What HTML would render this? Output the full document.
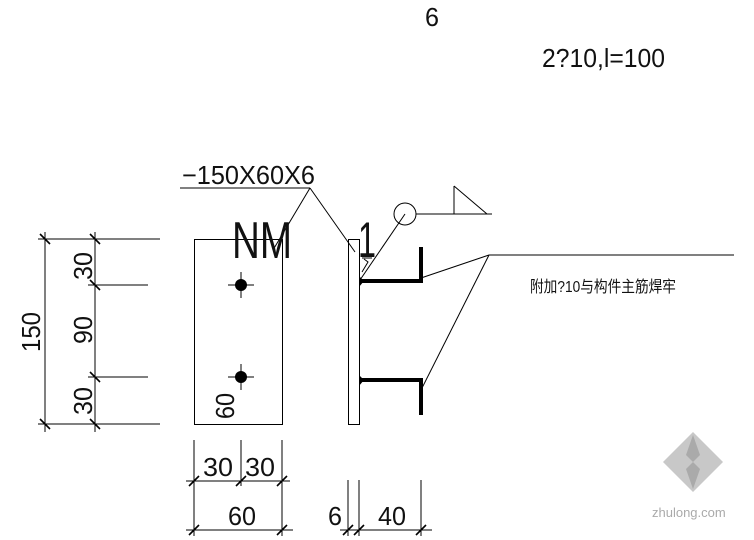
<!DOCTYPE html>
<html><head><meta charset="utf-8"><style>
html,body{margin:0;padding:0;background:#fff;}
svg{display:block}
text{font-family:"Liberation Sans","Noto Sans CJK SC",sans-serif;fill:#111;}
</style></head><body>
<svg width="754" height="540" viewBox="0 0 754 540" xmlns="http://www.w3.org/2000/svg">
<g stroke="#000" stroke-width="1" fill="none">
<line x1="45" y1="232" x2="45" y2="432"/>
<line x1="95" y1="232" x2="95" y2="432"/>
<line x1="38" y1="239" x2="160" y2="239"/>
<line x1="38" y1="424" x2="160" y2="424"/>
<line x1="88" y1="285" x2="148" y2="285"/>
<line x1="88" y1="377" x2="148" y2="377"/>
<g stroke-width="1.6">
<line x1="40" y1="234" x2="50" y2="244"/><line x1="40" y1="419" x2="50" y2="429"/>
<line x1="90" y1="234" x2="100" y2="244"/><line x1="90" y1="280" x2="100" y2="290"/>
<line x1="90" y1="372" x2="100" y2="382"/><line x1="90" y1="419" x2="100" y2="429"/>
</g>
<rect x="194.5" y="239.5" width="88" height="185"/>
<line x1="228" y1="285" x2="254" y2="285"/><line x1="241" y1="272" x2="241" y2="298"/>
<line x1="228" y1="377" x2="254" y2="377"/><line x1="241" y1="364" x2="241" y2="390"/>
<line x1="180" y1="188" x2="310" y2="188"/>
<line x1="310" y1="188" x2="273" y2="250"/>
<line x1="310" y1="188" x2="355" y2="252"/>
<rect x="348.5" y="239.5" width="11" height="185"/>
<circle cx="405" cy="214" r="11"/>
<line x1="416" y1="214" x2="492" y2="214"/>
<polyline points="454,186 454,214 487,214 454,186"/>
<line x1="405" y1="214" x2="360" y2="280"/>
<line x1="362" y1="258" x2="372" y2="258"/>
<polyline points="364,259 368,262 362,272"/>
<line x1="421" y1="278" x2="489" y2="255"/>
<line x1="421" y1="390" x2="489" y2="255"/>
<line x1="489" y1="255" x2="734" y2="255"/>
<line x1="194" y1="440" x2="194" y2="536"/>
<line x1="241" y1="440" x2="241" y2="486"/>
<line x1="282" y1="440" x2="282" y2="536"/>
<line x1="186" y1="481" x2="290" y2="481"/>
<line x1="186" y1="530" x2="293" y2="530"/>
<line x1="348" y1="480" x2="348" y2="536"/>
<line x1="359" y1="480" x2="359" y2="536"/>
<line x1="421" y1="480" x2="421" y2="536"/>
<line x1="340" y1="530" x2="432" y2="530"/>
<g stroke-width="1.6">
<line x1="189" y1="486" x2="199" y2="476"/><line x1="236" y1="486" x2="246" y2="476"/><line x1="277" y1="486" x2="287" y2="476"/>
<line x1="189" y1="535" x2="199" y2="525"/><line x1="277" y1="535" x2="287" y2="525"/>
<line x1="343" y1="535" x2="353" y2="525"/><line x1="354" y1="535" x2="364" y2="525"/><line x1="416" y1="535" x2="426" y2="525"/>
</g>
</g>
<circle cx="241" cy="285" r="6" fill="#000"/>
<circle cx="241" cy="377" r="6" fill="#000"/>
<g stroke="#000" stroke-width="4" fill="none">
<polyline points="360,281 421,281 421,247"/>
<polyline points="360,380 421,380 421,415"/>
</g>
<path d="M359,276 L364,281 L359,287Z M359,375 L364,380 L359,386Z" fill="#000"/>
<g font-size="26">
<text x="182" y="184" textLength="133" lengthAdjust="spacingAndGlyphs">−150X60X6</text>
<text x="232" y="258" font-size="52" textLength="60" lengthAdjust="spacingAndGlyphs">NM</text>
<text x="358" y="257" font-size="50" textLength="18" lengthAdjust="spacingAndGlyphs">1</text>
<text transform="translate(40,352) rotate(-90)" textLength="40" lengthAdjust="spacingAndGlyphs">150</text>
<text transform="translate(92,280) rotate(-90)" textLength="28" lengthAdjust="spacingAndGlyphs">30</text>
<text transform="translate(92,344) rotate(-90)" textLength="28" lengthAdjust="spacingAndGlyphs">90</text>
<text transform="translate(92,415) rotate(-90)" textLength="28" lengthAdjust="spacingAndGlyphs">30</text>
<text transform="translate(234,419) rotate(-90)" textLength="26" lengthAdjust="spacingAndGlyphs">60</text>
<text x="203" y="476" textLength="30" lengthAdjust="spacingAndGlyphs">30</text>
<text x="245" y="476" textLength="30" lengthAdjust="spacingAndGlyphs">30</text>
<text x="228" y="525" textLength="28" lengthAdjust="spacingAndGlyphs">60</text>
<text x="328" y="525" textLength="14" lengthAdjust="spacingAndGlyphs">6</text>
<text x="378" y="525" textLength="28" lengthAdjust="spacingAndGlyphs">40</text>
<text x="425" y="26" textLength="14" lengthAdjust="spacingAndGlyphs">6</text>
<text x="542" y="67" textLength="123" lengthAdjust="spacingAndGlyphs">2?10,l=100</text>
</g>
<text x="530" y="292" font-size="16" textLength="146" lengthAdjust="spacingAndGlyphs">附加?10与构件主筋焊牢</text>
<g fill="#c8c8c8">
<polygon points="693,432 723,462 693,492 663,462"/>
</g>
<g fill="#aaa"><polygon points="693,435 700,455 693,462 686,455"/><polygon points="693,489 700,469 693,462 686,469"/></g>
<text x="652" y="517" font-size="13" style="fill:#aaa">zhulong.com</text>
</svg>
</body></html>
